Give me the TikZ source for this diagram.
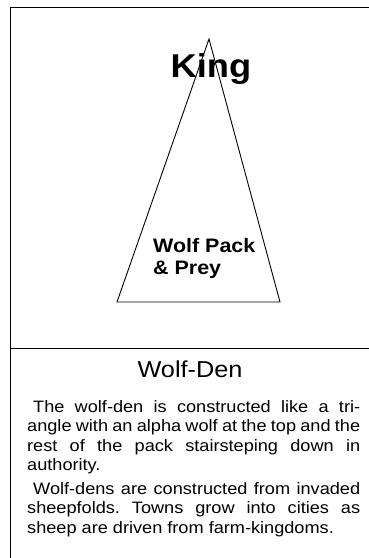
\documentclass[tikz,border=0pt]{standalone}
\usepackage{fontspec}
\setmainfont{Liberation Sans}
\newfontfamily\denfont[FakeStretch=1.1]{Liberation Sans}
\usetikzlibrary{positioning}
\frenchspacing

\tikzset{
  frameline/.style={line width=1pt},
  denline/.style={line width=0.9pt},
  bodytext/.style={font=\denfont\fontsize{16.5}{19.5}\selectfont,
    text width=333pt, align=justify, inner sep=0pt},
}

\begin{document}
\begin{tikzpicture}[x=1pt, y=-1pt]
  \useasboundingbox (0,0) rectangle (369,558);

  % --- cornice ---
  \coordinate (ftop) at (369,7);
  \coordinate (fcorner) at (10,7);
  \coordinate (fbottom) at (10,558);
  \coordinate (dleft) at (10,348);
  \coordinate (dright) at (369,348);
  \draw[frameline] (ftop) -- (fcorner) -- (fbottom);
  \draw[frameline] (dleft) -- (dright);

  % --- triangolo ---
  \coordinate (apex) at (209,39);
  \coordinate (baseL) at (117,302);
  \coordinate (baseR) at (280,302);
  \draw[denline] (apex) -- (baseR) -- (baseL) -- cycle;

  \node[anchor=base, inner sep=0pt,
    font=\denfont\bfseries\fontsize{33}{33}\selectfont] (king) at (211,77) {King};
  \node[anchor=north west, inner sep=0pt, align=left,
    font=\denfont\bfseries\fontsize{19.5}{22}\selectfont] (pack) at (153,238)
    {Wolf Pack\\\& Prey};

  % --- testo ---
  \node[anchor=base, inner sep=0pt,
    font=\denfont\fontsize{23}{23}\selectfont] (title) at (190,377) {Wolf-Den};

  \node[bodytext, anchor=north west] (para1) at (27,400)
    {\hspace*{6pt}The wolf-den is constructed like a tri-\linebreak
     angle with an alpha wolf at the top and the\linebreak
     rest of the pack stairsteping down in\linebreak
     authority.};
  \node[bodytext, below=8pt of para1.south west, anchor=north west] (para2)
    {\hspace*{6pt}Wolf-dens are constructed from invaded\linebreak
     sheepfolds. Towns grow into cities as\linebreak
     sheep are driven from farm-kingdoms.};

\end{tikzpicture}
\end{document}
